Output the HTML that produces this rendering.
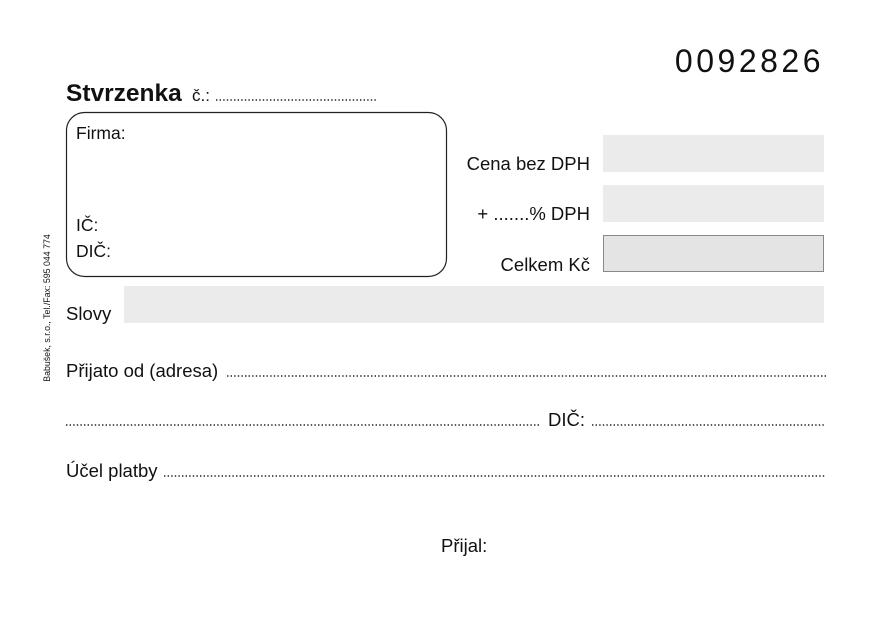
<!DOCTYPE html>
<html><head><meta charset="utf-8"><style>
html,body{margin:0;padding:0;background:#fff;}
svg{display:block;font-family:"Liberation Sans",sans-serif;}
</style></head><body>
<svg width="877" height="620" viewBox="0 0 877 620" xmlns="http://www.w3.org/2000/svg">
<rect width="877" height="620" fill="#fff"/>
<text x="824" y="72" font-size="32" text-anchor="end" letter-spacing="3.5" fill="#111">0092826</text>
<text x="66" y="101" font-size="24.5" font-weight="bold" fill="#111">Stvrzenka</text>
<text x="192" y="101" font-size="17" fill="#111">č.:</text>
<line x1="216" y1="100" x2="378" y2="100" stroke="#222" stroke-width="1.4" stroke-dasharray="1.4 2.2"/>
<rect x="66.5" y="112.5" width="380" height="164" rx="18" fill="none" stroke="#222" stroke-width="1.2"/>
<text x="76" y="139" font-size="17.5" fill="#111">Firma:</text>
<text x="76" y="231" font-size="17.5" fill="#111">IČ:</text>
<text x="76" y="257" font-size="17.5" fill="#111">DIČ:</text>
<rect x="603" y="135" width="221" height="37" fill="#ebebeb"/>
<rect x="603" y="185" width="221" height="37" fill="#ebebeb"/>
<rect x="603.5" y="235.5" width="220" height="36" fill="#e4e4e4" stroke="#888" stroke-width="1"/>
<text x="590" y="170" font-size="18.5" text-anchor="end" fill="#111">Cena bez DPH</text>
<text x="590" y="220" font-size="18.5" text-anchor="end" fill="#111">+ .......% DPH</text>
<text x="590" y="271" font-size="18.5" text-anchor="end" fill="#111">Celkem Kč</text>
<text x="66" y="320" font-size="18.5" fill="#111">Slovy</text>
<rect x="124" y="286" width="700" height="37" fill="#ebebeb"/>
<text x="66" y="377" font-size="18.5" fill="#111">Přijato od (adresa)</text>
<line x1="227" y1="376" x2="826" y2="376" stroke="#222" stroke-width="1.4" stroke-dasharray="1.4 2.2"/>
<line x1="66" y1="425" x2="540" y2="425" stroke="#222" stroke-width="1.4" stroke-dasharray="1.4 2.2"/>
<text x="548" y="426" font-size="18.5" fill="#111">DIČ:</text>
<line x1="592" y1="425" x2="824" y2="425" stroke="#222" stroke-width="1.4" stroke-dasharray="1.4 2.2"/>
<text x="66" y="477" font-size="18.5" fill="#111">Účel platby</text>
<line x1="164" y1="476" x2="826" y2="476" stroke="#222" stroke-width="1.4" stroke-dasharray="1.4 2.2"/>
<text x="441" y="552" font-size="18.5" fill="#111">Přijal:</text>
<text transform="translate(50,308) rotate(-90)" font-size="8.8" text-anchor="middle" fill="#111">Babušek, s.r.o., Tel./Fax: 595 044 774</text>
</svg>
</body></html>
